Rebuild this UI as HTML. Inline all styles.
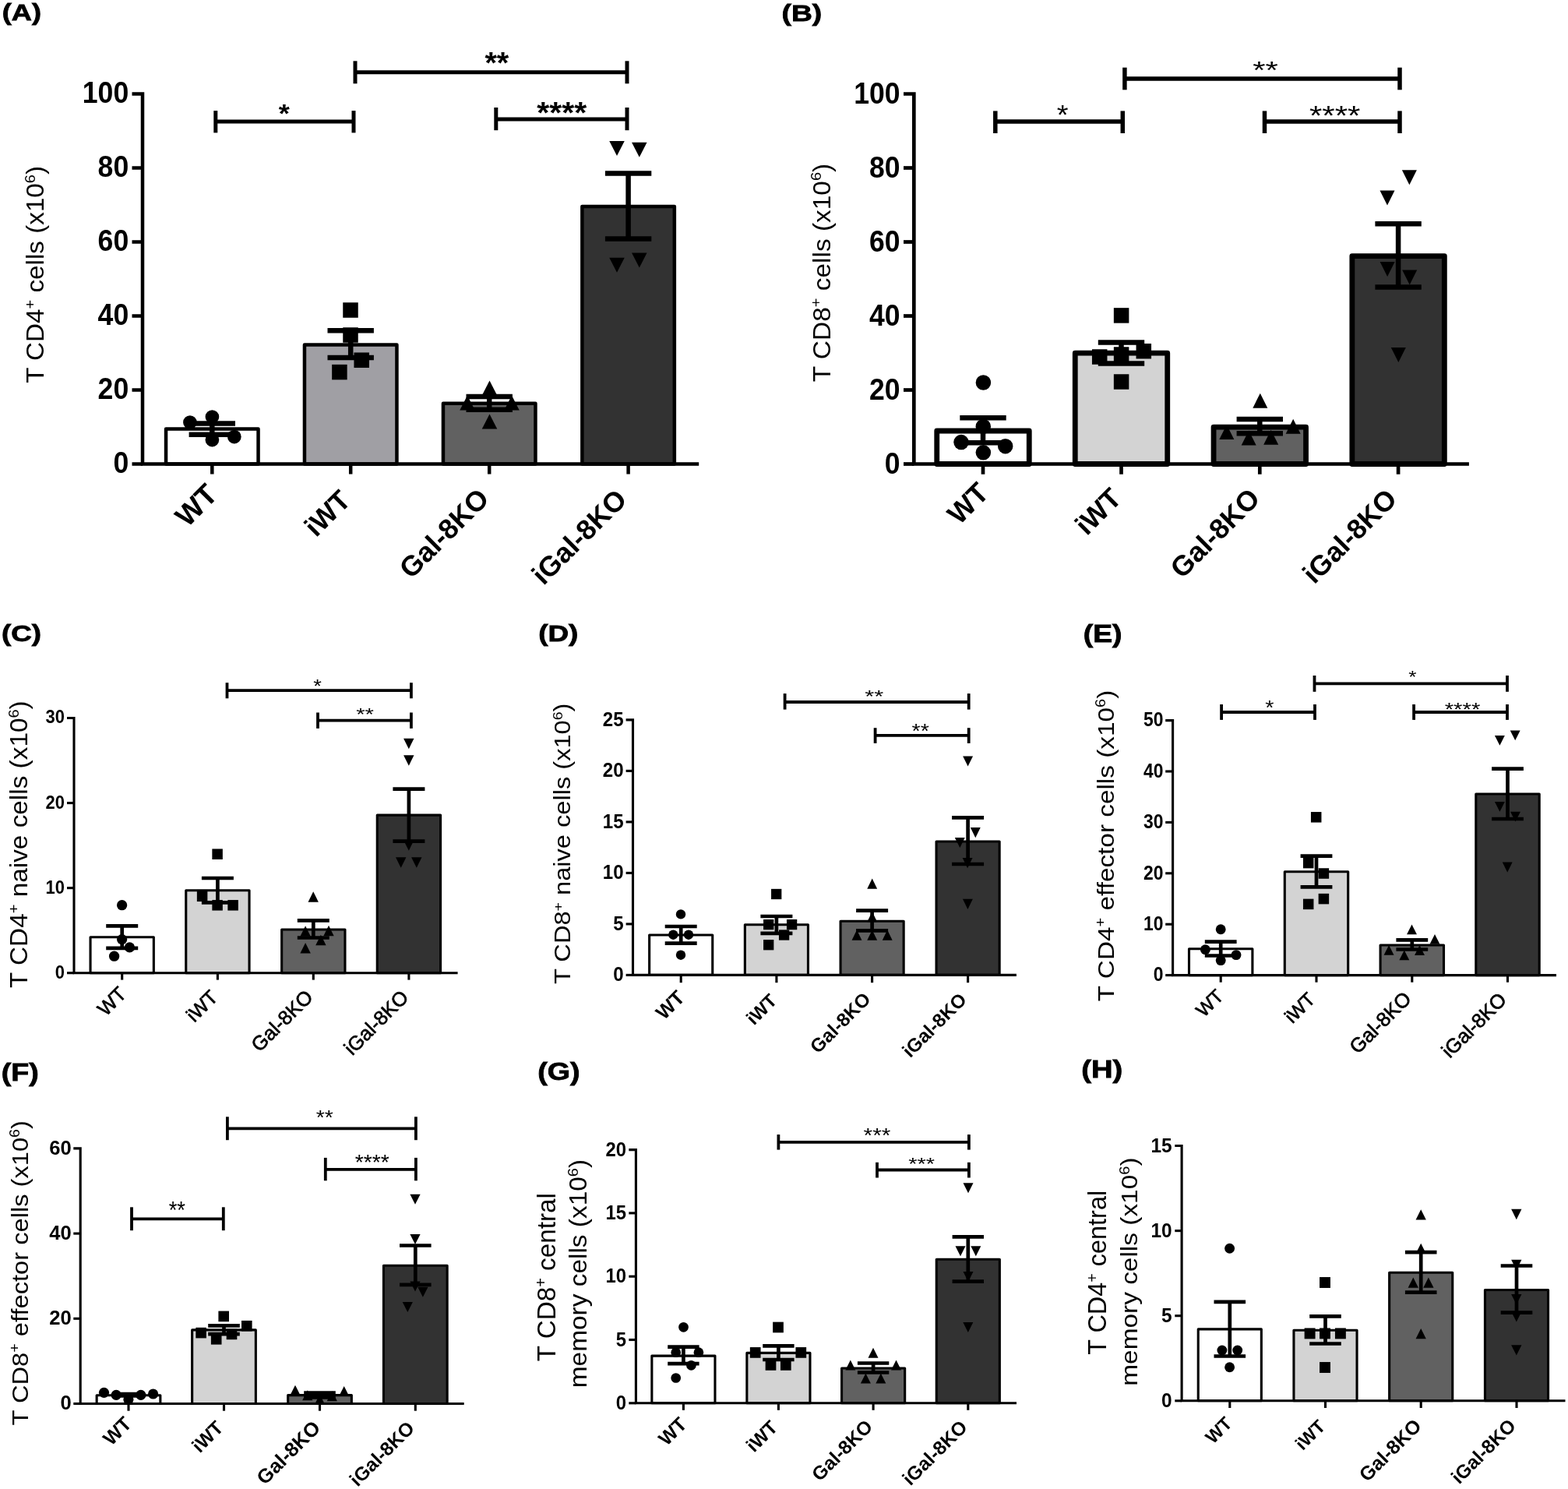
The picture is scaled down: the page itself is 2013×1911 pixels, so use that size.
<!DOCTYPE html>
<html><head><meta charset="utf-8"><title>Figure</title>
<style>html,body{margin:0;padding:0;background:#fff;}svg{display:block;}</style></head>
<body>
<svg xmlns="http://www.w3.org/2000/svg" width="2013" height="1911" viewBox="0 0 2013 1911">
<rect width="2013" height="1911" fill="#fff"/>
<g id="pA" stroke="#000" fill="#000">
<rect x="213.05" y="550.5" width="118.5" height="45" fill="#ffffff" stroke="#000" stroke-width="4.5" stroke-linejoin="round"/>
<rect x="390.95" y="442.4" width="118.5" height="153.1" fill="#a09fa4" stroke="#000" stroke-width="4.5" stroke-linejoin="round"/>
<rect x="568.95" y="517.8" width="118.5" height="77.7" fill="#616161" stroke="#000" stroke-width="4.5" stroke-linejoin="round"/>
<rect x="747.35" y="265.1" width="118.5" height="330.4" fill="#323232" stroke="#000" stroke-width="4.5" stroke-linejoin="round"/>
<line x1="272.3" y1="543.4" x2="272.3" y2="557.7" stroke-width="6.5" stroke-linecap="butt"/>
<line x1="242.6" y1="543.4" x2="302" y2="543.4" stroke-width="6.5" stroke-linecap="butt"/>
<line x1="242.6" y1="557.7" x2="302" y2="557.7" stroke-width="6.5" stroke-linecap="butt"/>
<line x1="450.2" y1="424.3" x2="450.2" y2="459" stroke-width="6.5" stroke-linecap="butt"/>
<line x1="420.5" y1="424.3" x2="479.9" y2="424.3" stroke-width="6.5" stroke-linecap="butt"/>
<line x1="420.5" y1="459" x2="479.9" y2="459" stroke-width="6.5" stroke-linecap="butt"/>
<line x1="628.2" y1="509" x2="628.2" y2="525.7" stroke-width="6.5" stroke-linecap="butt"/>
<line x1="598.5" y1="509" x2="657.9" y2="509" stroke-width="6.5" stroke-linecap="butt"/>
<line x1="598.5" y1="525.7" x2="657.9" y2="525.7" stroke-width="6.5" stroke-linecap="butt"/>
<line x1="806.6" y1="222.5" x2="806.6" y2="306.6" stroke-width="6.5" stroke-linecap="butt"/>
<line x1="776.9" y1="222.5" x2="836.3" y2="222.5" stroke-width="6.5" stroke-linecap="butt"/>
<line x1="776.9" y1="306.6" x2="836.3" y2="306.6" stroke-width="6.5" stroke-linecap="butt"/>
</g>
<g stroke="none" fill="#000">
<circle cx="243.9" cy="542" r="8.85"/>
<circle cx="272.4" cy="535" r="8.85"/>
<circle cx="272.4" cy="564.6" r="8.85"/>
<circle cx="300.8" cy="560.6" r="8.85"/>
<rect x="440.25" y="388.25" width="19.5" height="19.5"/>
<rect x="440.25" y="420.25" width="19.5" height="19.5"/>
<rect x="454.45" y="452.45" width="19.5" height="19.5"/>
<rect x="426.15" y="467.85" width="19.5" height="19.5"/>
<polygon points="628.5,488.5 618.75,507.5 638.25,507.5"/>
<polygon points="600,507.5 590.25,526.5 609.75,526.5"/>
<polygon points="657,507.5 647.25,526.5 666.75,526.5"/>
<polygon points="628.5,531.5 618.75,550.5 638.25,550.5"/>
<polygon points="782.25,181.1 801.75,181.1 792,200.1"/>
<polygon points="811.05,182.8 830.55,182.8 820.8,201.8"/>
<polygon points="782.25,330.7 801.75,330.7 792,349.7"/>
<polygon points="811.05,324.6 830.55,324.6 820.8,343.6"/>
</g>
<g stroke="#000" fill="none">
<path d="M169.5 120.5 H183 V595.5 H897.2" stroke-width="4.5" stroke-linejoin="miter"/>
<line x1="169.5" y1="595.5" x2="183" y2="595.5" stroke-width="4.5" stroke-linecap="butt"/>
<line x1="169.5" y1="500.5" x2="183" y2="500.5" stroke-width="4.5" stroke-linecap="butt"/>
<line x1="169.5" y1="405.5" x2="183" y2="405.5" stroke-width="4.5" stroke-linecap="butt"/>
<line x1="169.5" y1="310.5" x2="183" y2="310.5" stroke-width="4.5" stroke-linecap="butt"/>
<line x1="169.5" y1="215.5" x2="183" y2="215.5" stroke-width="4.5" stroke-linecap="butt"/>
<line x1="272.3" y1="595.5" x2="272.3" y2="608.5" stroke-width="4.5" stroke-linecap="butt"/>
<line x1="450.2" y1="595.5" x2="450.2" y2="608.5" stroke-width="4.5" stroke-linecap="butt"/>
<line x1="628.2" y1="595.5" x2="628.2" y2="608.5" stroke-width="4.5" stroke-linecap="butt"/>
<line x1="806.6" y1="595.5" x2="806.6" y2="608.5" stroke-width="4.5" stroke-linecap="butt"/>
<line x1="276.8" y1="156" x2="454" y2="156" stroke-width="5" stroke-linecap="butt"/>
<line x1="276.8" y1="142.1" x2="276.8" y2="170.4" stroke-width="5" stroke-linecap="butt"/>
<line x1="454" y1="142.1" x2="454" y2="170.4" stroke-width="5" stroke-linecap="butt"/>
<line x1="456" y1="92.7" x2="805" y2="92.7" stroke-width="5" stroke-linecap="butt"/>
<line x1="456" y1="78.3" x2="456" y2="107.3" stroke-width="5" stroke-linecap="butt"/>
<line x1="805" y1="78.3" x2="805" y2="107.3" stroke-width="5" stroke-linecap="butt"/>
<line x1="636.8" y1="152.9" x2="805" y2="152.9" stroke-width="5" stroke-linecap="butt"/>
<line x1="636.8" y1="138" x2="636.8" y2="167.2" stroke-width="5" stroke-linecap="butt"/>
<line x1="805" y1="138" x2="805" y2="167.2" stroke-width="5" stroke-linecap="butt"/>
</g>
<g fill="#000" font-family='"Liberation Sans", Arial, Helvetica, sans-serif'>
<text id="A_br0" transform="translate(364.81 156.58) scale(1.1102 1)" font-size="32.56" font-weight="bold" text-anchor="middle">*</text>
<text id="A_br1" transform="translate(637.86 93.71) scale(1.0436 1)" font-size="38.08" font-weight="bold" text-anchor="middle">**</text>
<text id="A_br2" transform="translate(721.27 158.41) scale(1.0347 1)" font-size="39.66" font-weight="bold" text-anchor="middle">****</text>
<text id="A_t0" transform="translate(165.27 607.12) scale(0.9336 1)" font-size="38.19" font-weight="bold" text-anchor="end">0</text>
<text id="A_t20" transform="translate(165.27 512.12) scale(0.9336 1)" font-size="38.19" font-weight="bold" text-anchor="end">20</text>
<text id="A_t40" transform="translate(165.27 417.12) scale(0.9336 1)" font-size="38.19" font-weight="bold" text-anchor="end">40</text>
<text id="A_t60" transform="translate(165.27 322.12) scale(0.9336 1)" font-size="38.19" font-weight="bold" text-anchor="end">60</text>
<text id="A_t80" transform="translate(165.27 227.12) scale(0.9336 1)" font-size="38.19" font-weight="bold" text-anchor="end">80</text>
<text id="A_t100" transform="translate(165.27 132.12) scale(0.9336 1)" font-size="38.19" font-weight="bold" text-anchor="end">100</text>
<text id="A_x0" transform="translate(281.44 636.92) rotate(-45)" font-size="37.29" font-weight="bold" text-anchor="end">WT</text>
<text id="A_x1" transform="translate(452.1 644.29) rotate(-45)" font-size="35.75" font-weight="bold" text-anchor="end">iWT</text>
<text id="A_x2" transform="translate(629.74 642.07) rotate(-45)" font-size="36.09" font-weight="bold" text-anchor="end">Gal-8KO</text>
<text id="A_x3" transform="translate(806.78 643.09) rotate(-45)" font-size="36.06" font-weight="bold" text-anchor="end">iGal-8KO</text>
<text id="A_y0" transform="translate(56.4 352.41) rotate(-90) scale(1.0653 1)" font-size="31.21" font-weight="normal" text-anchor="middle"><tspan>T CD4</tspan><tspan font-size="18.73" dy="-11.24">+</tspan><tspan dy="11.24"> cells (x10</tspan><tspan font-size="18.73" dy="-11.24">6</tspan><tspan dy="11.24">)</tspan></text>
<text id="A_lab" transform="translate(2.75 26.06) scale(1.2174 1)" font-size="29.71" font-weight="bold" text-anchor="start" stroke="#000" stroke-width="0.8">(A)</text>
</g>
<g id="pB" stroke="#000" fill="#000">
<rect x="1202.75" y="553" width="118.5" height="42.5" fill="#ffffff" stroke="#000" stroke-width="6.8" stroke-linejoin="round"/>
<rect x="1380.25" y="453.2" width="118.5" height="142.3" fill="#d3d3d3" stroke="#000" stroke-width="6.8" stroke-linejoin="round"/>
<rect x="1558.05" y="548.2" width="118.5" height="47.3" fill="#616161" stroke="#000" stroke-width="6.8" stroke-linejoin="round"/>
<rect x="1735.85" y="328.6" width="118.5" height="266.9" fill="#323232" stroke="#000" stroke-width="6.8" stroke-linejoin="round"/>
<line x1="1262" y1="536.2" x2="1262" y2="568.2" stroke-width="6.5" stroke-linecap="butt"/>
<line x1="1232.3" y1="536.2" x2="1291.7" y2="536.2" stroke-width="6.5" stroke-linecap="butt"/>
<line x1="1232.3" y1="568.2" x2="1291.7" y2="568.2" stroke-width="6.5" stroke-linecap="butt"/>
<line x1="1439.5" y1="439.4" x2="1439.5" y2="466.4" stroke-width="6.5" stroke-linecap="butt"/>
<line x1="1409.8" y1="439.4" x2="1469.2" y2="439.4" stroke-width="6.5" stroke-linecap="butt"/>
<line x1="1409.8" y1="466.4" x2="1469.2" y2="466.4" stroke-width="6.5" stroke-linecap="butt"/>
<line x1="1617.3" y1="538" x2="1617.3" y2="556.2" stroke-width="6.5" stroke-linecap="butt"/>
<line x1="1587.6" y1="538" x2="1647" y2="538" stroke-width="6.5" stroke-linecap="butt"/>
<line x1="1587.6" y1="556.2" x2="1647" y2="556.2" stroke-width="6.5" stroke-linecap="butt"/>
<line x1="1795.1" y1="287.3" x2="1795.1" y2="368.5" stroke-width="6.5" stroke-linecap="butt"/>
<line x1="1765.4" y1="287.3" x2="1824.8" y2="287.3" stroke-width="6.5" stroke-linecap="butt"/>
<line x1="1765.4" y1="368.5" x2="1824.8" y2="368.5" stroke-width="6.5" stroke-linecap="butt"/>
</g>
<g stroke="none" fill="#000">
<circle cx="1262.4" cy="491" r="9.75"/>
<circle cx="1262.3" cy="547.4" r="9.75"/>
<circle cx="1234" cy="567.6" r="9.75"/>
<circle cx="1290.7" cy="572.7" r="9.75"/>
<circle cx="1262.3" cy="580.8" r="9.75"/>
<rect x="1429.85" y="395.15" width="19.5" height="19.5"/>
<rect x="1401.95" y="448.25" width="19.5" height="19.5"/>
<rect x="1458.55" y="440.95" width="19.5" height="19.5"/>
<rect x="1429.85" y="480.25" width="19.5" height="19.5"/>
<rect x="1429.85" y="445.25" width="19.5" height="19.5"/>
<polygon points="1617.8,504.7 1608.3,523.7 1627.3,523.7"/>
<polygon points="1660.2,537.7 1650.7,556.7 1669.7,556.7"/>
<polygon points="1574.8,545.1 1565.3,564.1 1584.3,564.1"/>
<polygon points="1603.2,552.6 1593.7,571.6 1612.7,571.6"/>
<polygon points="1631.7,551.8 1622.2,570.8 1641.2,570.8"/>
<polygon points="1771.5,244.5 1790.5,244.5 1781,263.5"/>
<polygon points="1799.9,218.2 1818.9,218.2 1809.4,237.2"/>
<polygon points="1771.6,336 1790.6,336 1781.1,355"/>
<polygon points="1800.2,346.5 1819.2,346.5 1809.7,365.5"/>
<polygon points="1785.8,445.9 1804.8,445.9 1795.3,464.9"/>
</g>
<g stroke="#000" fill="none">
<path d="M1160 120.5 H1173.3 V595.5 H1885.9" stroke-width="4.7" stroke-linejoin="miter"/>
<line x1="1160" y1="595.5" x2="1173.3" y2="595.5" stroke-width="4.7" stroke-linecap="butt"/>
<line x1="1160" y1="500.5" x2="1173.3" y2="500.5" stroke-width="4.7" stroke-linecap="butt"/>
<line x1="1160" y1="405.5" x2="1173.3" y2="405.5" stroke-width="4.7" stroke-linecap="butt"/>
<line x1="1160" y1="310.5" x2="1173.3" y2="310.5" stroke-width="4.7" stroke-linecap="butt"/>
<line x1="1160" y1="215.5" x2="1173.3" y2="215.5" stroke-width="4.7" stroke-linecap="butt"/>
<line x1="1262" y1="595.5" x2="1262" y2="608.7" stroke-width="4.7" stroke-linecap="butt"/>
<line x1="1439.5" y1="595.5" x2="1439.5" y2="608.7" stroke-width="4.7" stroke-linecap="butt"/>
<line x1="1617.3" y1="595.5" x2="1617.3" y2="608.7" stroke-width="4.7" stroke-linecap="butt"/>
<line x1="1795.1" y1="595.5" x2="1795.1" y2="608.7" stroke-width="4.7" stroke-linecap="butt"/>
<line x1="1277.8" y1="155.9" x2="1441.3" y2="155.9" stroke-width="5.5" stroke-linecap="butt"/>
<line x1="1277.8" y1="142.4" x2="1277.8" y2="171" stroke-width="5.5" stroke-linecap="butt"/>
<line x1="1441.3" y1="142.4" x2="1441.3" y2="171" stroke-width="5.5" stroke-linecap="butt"/>
<line x1="1443.9" y1="100.9" x2="1797" y2="100.9" stroke-width="5.5" stroke-linecap="butt"/>
<line x1="1443.9" y1="86.7" x2="1443.9" y2="115.3" stroke-width="5.5" stroke-linecap="butt"/>
<line x1="1797" y1="86.7" x2="1797" y2="115.3" stroke-width="5.5" stroke-linecap="butt"/>
<line x1="1623.5" y1="155.9" x2="1797" y2="155.9" stroke-width="5.5" stroke-linecap="butt"/>
<line x1="1623.5" y1="142.4" x2="1623.5" y2="171" stroke-width="5.5" stroke-linecap="butt"/>
<line x1="1797" y1="142.4" x2="1797" y2="171" stroke-width="5.5" stroke-linecap="butt"/>
</g>
<g fill="#000" font-family='"Liberation Sans", Arial, Helvetica, sans-serif'>
<text id="B_br0" transform="translate(1364.19 158.95) scale(1.0913 1)" font-size="34.84" font-weight="normal" text-anchor="middle">*</text>
<text id="B_br1" transform="translate(1624.5 100.98) scale(1.3500 1)" font-size="31.05" font-weight="normal" text-anchor="middle">**</text>
<text id="B_br2" transform="translate(1713.74 160.35) scale(1.1928 1)" font-size="35.31" font-weight="normal" text-anchor="middle">****</text>
<text id="B_t0" transform="translate(1155.59 607.97) scale(0.9347 1)" font-size="38.01" font-weight="bold" text-anchor="end">0</text>
<text id="B_t20" transform="translate(1155.59 512.97) scale(0.9347 1)" font-size="38.01" font-weight="bold" text-anchor="end">20</text>
<text id="B_t40" transform="translate(1155.59 417.97) scale(0.9347 1)" font-size="38.01" font-weight="bold" text-anchor="end">40</text>
<text id="B_t60" transform="translate(1155.59 322.97) scale(0.9347 1)" font-size="38.01" font-weight="bold" text-anchor="end">60</text>
<text id="B_t80" transform="translate(1155.59 227.97) scale(0.9347 1)" font-size="38.01" font-weight="bold" text-anchor="end">80</text>
<text id="B_t100" transform="translate(1155.59 132.97) scale(0.9347 1)" font-size="38.01" font-weight="bold" text-anchor="end">100</text>
<text id="B_x0" transform="translate(1271.44 634.84) rotate(-45)" font-size="36.42" font-weight="bold" text-anchor="end">WT</text>
<text id="B_x1" transform="translate(1441.86 641.79) rotate(-45)" font-size="36.02" font-weight="bold" text-anchor="end">iWT</text>
<text id="B_x2" transform="translate(1619.5 641.98) rotate(-45)" font-size="36.04" font-weight="bold" text-anchor="end">Gal-8KO</text>
<text id="B_x3" transform="translate(1795.49 642.52) rotate(-45)" font-size="35.75" font-weight="bold" text-anchor="end">iGal-8KO</text>
<text id="B_y0" transform="translate(1065.74 350.01) rotate(-90) scale(1.0567 1)" font-size="31.65" font-weight="normal" text-anchor="middle"><tspan>T CD8</tspan><tspan font-size="18.99" dy="-11.39">+</tspan><tspan dy="11.39"> cells (x10</tspan><tspan font-size="18.99" dy="-11.39">6</tspan><tspan dy="11.39">)</tspan></text>
<text id="B_lab" transform="translate(1003.46 26.96) scale(1.2312 1)" font-size="30.3" font-weight="bold" text-anchor="start" stroke="#000" stroke-width="0.8">(B)</text>
</g>
<g id="pC" stroke="#000" fill="#000">
<rect x="116.05" y="1202.7" width="81.3" height="46" fill="#ffffff" stroke="#000" stroke-width="3.1" stroke-linejoin="round"/>
<rect x="238.75" y="1142.8" width="81.3" height="105.9" fill="#d3d3d3" stroke="#000" stroke-width="3.1" stroke-linejoin="round"/>
<rect x="361.65" y="1193" width="81.3" height="55.7" fill="#616161" stroke="#000" stroke-width="3.1" stroke-linejoin="round"/>
<rect x="484.25" y="1046.1" width="81.3" height="202.6" fill="#323232" stroke="#000" stroke-width="3.1" stroke-linejoin="round"/>
<line x1="156.7" y1="1188.4" x2="156.7" y2="1216.9" stroke-width="4.7" stroke-linecap="butt"/>
<line x1="136.2" y1="1188.4" x2="177.2" y2="1188.4" stroke-width="4.7" stroke-linecap="butt"/>
<line x1="136.2" y1="1216.9" x2="177.2" y2="1216.9" stroke-width="4.7" stroke-linecap="butt"/>
<line x1="279.4" y1="1127" x2="279.4" y2="1158.3" stroke-width="4.7" stroke-linecap="butt"/>
<line x1="258.9" y1="1127" x2="299.9" y2="1127" stroke-width="4.7" stroke-linecap="butt"/>
<line x1="258.9" y1="1158.3" x2="299.9" y2="1158.3" stroke-width="4.7" stroke-linecap="butt"/>
<line x1="402.3" y1="1181.4" x2="402.3" y2="1203.5" stroke-width="4.7" stroke-linecap="butt"/>
<line x1="381.8" y1="1181.4" x2="422.8" y2="1181.4" stroke-width="4.7" stroke-linecap="butt"/>
<line x1="381.8" y1="1203.5" x2="422.8" y2="1203.5" stroke-width="4.7" stroke-linecap="butt"/>
<line x1="524.9" y1="1012.7" x2="524.9" y2="1079.6" stroke-width="4.7" stroke-linecap="butt"/>
<line x1="504.4" y1="1012.7" x2="545.4" y2="1012.7" stroke-width="4.7" stroke-linecap="butt"/>
<line x1="504.4" y1="1079.6" x2="545.4" y2="1079.6" stroke-width="4.7" stroke-linecap="butt"/>
</g>
<g stroke="none" fill="#000">
<circle cx="156.6" cy="1161.7" r="6.65"/>
<circle cx="156.6" cy="1205.6" r="6.65"/>
<circle cx="166.4" cy="1215.9" r="6.65"/>
<circle cx="146.6" cy="1227.2" r="6.65"/>
<rect x="272.35" y="1089.45" width="13.5" height="13.5"/>
<rect x="252.85" y="1143.55" width="13.5" height="13.5"/>
<rect x="272.35" y="1155.05" width="13.5" height="13.5"/>
<rect x="292.35" y="1155.05" width="13.5" height="13.5"/>
<polygon points="402.2,1144.25 395.5,1157.75 408.9,1157.75"/>
<polygon points="392.1,1188.15 385.4,1201.65 398.8,1201.65"/>
<polygon points="422,1187.85 415.3,1201.35 428.7,1201.35"/>
<polygon points="411.9,1199.65 405.2,1213.15 418.6,1213.15"/>
<polygon points="392.1,1209.95 385.4,1223.45 398.8,1223.45"/>
<polygon points="518.1,947.65 531.5,947.65 524.8,961.15"/>
<polygon points="518.1,969.25 531.5,969.25 524.8,982.75"/>
<polygon points="518.1,1078.25 531.5,1078.25 524.8,1091.75"/>
<polygon points="508,1100.15 521.4,1100.15 514.7,1113.65"/>
<polygon points="528.1,1100.15 541.5,1100.15 534.8,1113.65"/>
</g>
<g stroke="#000" fill="none">
<path d="M86 921.49 H95 V1248.7 H587.6" stroke-width="3.1" stroke-linejoin="miter"/>
<line x1="86" y1="1248.7" x2="95" y2="1248.7" stroke-width="3.1" stroke-linecap="butt"/>
<line x1="86" y1="1139.63" x2="95" y2="1139.63" stroke-width="3.1" stroke-linecap="butt"/>
<line x1="86" y1="1030.56" x2="95" y2="1030.56" stroke-width="3.1" stroke-linecap="butt"/>
<line x1="156.7" y1="1248.7" x2="156.7" y2="1257.6" stroke-width="3.1" stroke-linecap="butt"/>
<line x1="279.4" y1="1248.7" x2="279.4" y2="1257.6" stroke-width="3.1" stroke-linecap="butt"/>
<line x1="402.3" y1="1248.7" x2="402.3" y2="1257.6" stroke-width="3.1" stroke-linecap="butt"/>
<line x1="524.9" y1="1248.7" x2="524.9" y2="1257.6" stroke-width="3.1" stroke-linecap="butt"/>
<line x1="291.5" y1="886.2" x2="527.9" y2="886.2" stroke-width="3.8" stroke-linecap="butt"/>
<line x1="291.5" y1="876.2" x2="291.5" y2="896.3" stroke-width="3.8" stroke-linecap="butt"/>
<line x1="527.9" y1="876.2" x2="527.9" y2="896.3" stroke-width="3.8" stroke-linecap="butt"/>
<line x1="408" y1="924.6" x2="527.9" y2="924.6" stroke-width="3.8" stroke-linecap="butt"/>
<line x1="408" y1="914.5" x2="408" y2="934.9" stroke-width="3.8" stroke-linecap="butt"/>
<line x1="527.9" y1="914.5" x2="527.9" y2="934.9" stroke-width="3.8" stroke-linecap="butt"/>
</g>
<g fill="#000" font-family='"Liberation Sans", Arial, Helvetica, sans-serif'>
<text id="C_br0" transform="translate(407.52 888.91) scale(1.1274 1)" font-size="24.24" font-weight="normal" text-anchor="middle">*</text>
<text id="C_br1" transform="translate(468.62 924.19) scale(1.3249 1)" font-size="22.13" font-weight="normal" text-anchor="middle">**</text>
<text id="C_t0" transform="translate(82.89 1255.7) scale(0.9170 1)" font-size="23.96" font-weight="bold" text-anchor="end">0</text>
<text id="C_t10" transform="translate(82.89 1146.63) scale(0.9170 1)" font-size="23.96" font-weight="bold" text-anchor="end">10</text>
<text id="C_t20" transform="translate(82.89 1037.56) scale(0.9170 1)" font-size="23.96" font-weight="bold" text-anchor="end">20</text>
<text id="C_t30" transform="translate(82.89 928.49) scale(0.9170 1)" font-size="23.96" font-weight="bold" text-anchor="end">30</text>
<text id="C_x0" transform="translate(163.59 1277.23) rotate(-45)" font-size="25.39" font-weight="normal" text-anchor="end" stroke="#000" stroke-width="0.7">WT</text>
<text id="C_x1" transform="translate(280.93 1281.49) rotate(-45)" font-size="24.99" font-weight="normal" text-anchor="end" stroke="#000" stroke-width="0.7">iWT</text>
<text id="C_x2" transform="translate(403.21 1281.11) rotate(-45)" font-size="25.51" font-weight="normal" text-anchor="end" stroke="#000" stroke-width="0.7">Gal-8KO</text>
<text id="C_x3" transform="translate(526.1 1281.55) rotate(-45)" font-size="25.44" font-weight="normal" text-anchor="end" stroke="#000" stroke-width="0.7">iGal-8KO</text>
<text id="C_y0" transform="translate(35.32 1083.68) rotate(-90) scale(1.0903 1)" font-size="30.59" font-weight="normal" text-anchor="middle"><tspan>T CD4</tspan><tspan font-size="18.35" dy="-11.01">+</tspan><tspan dy="11.01"> naive cells (x10</tspan><tspan font-size="18.35" dy="-11.01">6</tspan><tspan dy="11.01">)</tspan></text>
<text id="C_lab" transform="translate(2.04 822.97) scale(1.2459 1)" font-size="29.53" font-weight="bold" text-anchor="start" stroke="#000" stroke-width="0.8">(C)</text>
</g>
<g id="pD" stroke="#000" fill="#000">
<rect x="833.65" y="1200" width="81.1" height="51.4" fill="#ffffff" stroke="#000" stroke-width="3.1" stroke-linejoin="round"/>
<rect x="956.35" y="1186.7" width="81.1" height="64.7" fill="#d3d3d3" stroke="#000" stroke-width="3.1" stroke-linejoin="round"/>
<rect x="1079.05" y="1182.3" width="81.1" height="69.1" fill="#616161" stroke="#000" stroke-width="3.1" stroke-linejoin="round"/>
<rect x="1202.05" y="1080" width="81.1" height="171.4" fill="#323232" stroke="#000" stroke-width="3.1" stroke-linejoin="round"/>
<line x1="874.2" y1="1189" x2="874.2" y2="1210.7" stroke-width="4.7" stroke-linecap="butt"/>
<line x1="853.7" y1="1189" x2="894.7" y2="1189" stroke-width="4.7" stroke-linecap="butt"/>
<line x1="853.7" y1="1210.7" x2="894.7" y2="1210.7" stroke-width="4.7" stroke-linecap="butt"/>
<line x1="996.9" y1="1176" x2="996.9" y2="1197.8" stroke-width="4.7" stroke-linecap="butt"/>
<line x1="976.4" y1="1176" x2="1017.4" y2="1176" stroke-width="4.7" stroke-linecap="butt"/>
<line x1="976.4" y1="1197.8" x2="1017.4" y2="1197.8" stroke-width="4.7" stroke-linecap="butt"/>
<line x1="1119.6" y1="1168.7" x2="1119.6" y2="1194.4" stroke-width="4.7" stroke-linecap="butt"/>
<line x1="1099.1" y1="1168.7" x2="1140.1" y2="1168.7" stroke-width="4.7" stroke-linecap="butt"/>
<line x1="1099.1" y1="1194.4" x2="1140.1" y2="1194.4" stroke-width="4.7" stroke-linecap="butt"/>
<line x1="1242.6" y1="1049.3" x2="1242.6" y2="1109" stroke-width="4.7" stroke-linecap="butt"/>
<line x1="1222.1" y1="1049.3" x2="1263.1" y2="1049.3" stroke-width="4.7" stroke-linecap="butt"/>
<line x1="1222.1" y1="1109" x2="1263.1" y2="1109" stroke-width="4.7" stroke-linecap="butt"/>
</g>
<g stroke="none" fill="#000">
<circle cx="874" cy="1173.4" r="6.2"/>
<circle cx="864.3" cy="1199.7" r="6.2"/>
<circle cx="884" cy="1199.7" r="6.2"/>
<circle cx="874" cy="1225.7" r="6.2"/>
<rect x="990.05" y="1140.85" width="13.3" height="13.3"/>
<rect x="980.05" y="1179.95" width="13.3" height="13.3"/>
<rect x="1009.95" y="1179.95" width="13.3" height="13.3"/>
<rect x="999.95" y="1193.35" width="13.3" height="13.3"/>
<rect x="980.05" y="1206.05" width="13.3" height="13.3"/>
<polygon points="1119.7,1127.6 1113.25,1140.8 1126.15,1140.8"/>
<polygon points="1119.7,1170.1 1113.25,1183.3 1126.15,1183.3"/>
<polygon points="1100,1193.6 1093.55,1206.8 1106.45,1206.8"/>
<polygon points="1119.7,1193.6 1113.25,1206.8 1126.15,1206.8"/>
<polygon points="1139.2,1193.6 1132.75,1206.8 1145.65,1206.8"/>
<polygon points="1236.15,970.4 1249.05,970.4 1242.6,983.6"/>
<polygon points="1245.85,1062.1 1258.75,1062.1 1252.3,1075.3"/>
<polygon points="1225.85,1074.9 1238.75,1074.9 1232.3,1088.1"/>
<polygon points="1235.65,1101 1248.55,1101 1242.1,1114.2"/>
<polygon points="1235.95,1153.7 1248.85,1153.7 1242.4,1166.9"/>
</g>
<g stroke="#000" fill="none">
<path d="M803.6 923.9 H812.5 V1251.4 H1304.9" stroke-width="3.1" stroke-linejoin="miter"/>
<line x1="803.6" y1="1251.4" x2="812.5" y2="1251.4" stroke-width="3.1" stroke-linecap="butt"/>
<line x1="803.6" y1="1185.9" x2="812.5" y2="1185.9" stroke-width="3.1" stroke-linecap="butt"/>
<line x1="803.6" y1="1120.4" x2="812.5" y2="1120.4" stroke-width="3.1" stroke-linecap="butt"/>
<line x1="803.6" y1="1054.9" x2="812.5" y2="1054.9" stroke-width="3.1" stroke-linecap="butt"/>
<line x1="803.6" y1="989.4" x2="812.5" y2="989.4" stroke-width="3.1" stroke-linecap="butt"/>
<line x1="874.2" y1="1251.4" x2="874.2" y2="1261.2" stroke-width="3.1" stroke-linecap="butt"/>
<line x1="996.9" y1="1251.4" x2="996.9" y2="1261.2" stroke-width="3.1" stroke-linecap="butt"/>
<line x1="1119.6" y1="1251.4" x2="1119.6" y2="1261.2" stroke-width="3.1" stroke-linecap="butt"/>
<line x1="1242.6" y1="1251.4" x2="1242.6" y2="1261.2" stroke-width="3.1" stroke-linecap="butt"/>
<line x1="1007.6" y1="901" x2="1243.7" y2="901" stroke-width="3.8" stroke-linecap="butt"/>
<line x1="1007.6" y1="890.1" x2="1007.6" y2="910.6" stroke-width="3.8" stroke-linecap="butt"/>
<line x1="1243.7" y1="890.1" x2="1243.7" y2="910.6" stroke-width="3.8" stroke-linecap="butt"/>
<line x1="1123.6" y1="943.9" x2="1243.7" y2="943.9" stroke-width="3.8" stroke-linecap="butt"/>
<line x1="1123.6" y1="934.2" x2="1123.6" y2="953.9" stroke-width="3.8" stroke-linecap="butt"/>
<line x1="1243.7" y1="934.2" x2="1243.7" y2="953.9" stroke-width="3.8" stroke-linecap="butt"/>
</g>
<g fill="#000" font-family='"Liberation Sans", Arial, Helvetica, sans-serif'>
<text id="D_br0" transform="translate(1122.24 900.72) scale(1.3500 1)" font-size="22.83" font-weight="normal" text-anchor="middle">**</text>
<text id="D_br1" transform="translate(1181.68 947.37) scale(1.1252 1)" font-size="25.4" font-weight="normal" text-anchor="middle">**</text>
<text id="D_t0" transform="translate(800.58 1259.12) scale(0.9472 1)" font-size="25.41" font-weight="bold" text-anchor="end">0</text>
<text id="D_t5" transform="translate(800.58 1193.62) scale(0.9472 1)" font-size="25.41" font-weight="bold" text-anchor="end">5</text>
<text id="D_t10" transform="translate(800.58 1128.12) scale(0.9472 1)" font-size="25.41" font-weight="bold" text-anchor="end">10</text>
<text id="D_t15" transform="translate(800.58 1062.62) scale(0.9472 1)" font-size="25.41" font-weight="bold" text-anchor="end">15</text>
<text id="D_t20" transform="translate(800.58 997.12) scale(0.9472 1)" font-size="25.41" font-weight="bold" text-anchor="end">20</text>
<text id="D_t25" transform="translate(800.58 931.62) scale(0.9472 1)" font-size="25.41" font-weight="bold" text-anchor="end">25</text>
<text id="D_x0" transform="translate(880.57 1281.92) rotate(-45)" font-size="25.47" font-weight="bold" text-anchor="end">WT</text>
<text id="D_x1" transform="translate(998.9 1285.71) rotate(-45)" font-size="23.88" font-weight="bold" text-anchor="end">iWT</text>
<text id="D_x2" transform="translate(1119.24 1283.9) rotate(-45)" font-size="24.48" font-weight="bold" text-anchor="end">Gal-8KO</text>
<text id="D_x3" transform="translate(1242.34 1284.63) rotate(-45)" font-size="24.44" font-weight="bold" text-anchor="end">iGal-8KO</text>
<text id="D_y0" transform="translate(731.98 1082.78) rotate(-90) scale(1.1404 1)" font-size="28.59" font-weight="normal" text-anchor="middle"><tspan>T CD8</tspan><tspan font-size="17.15" dy="-10.29">+</tspan><tspan dy="10.29"> naive cells (x10</tspan><tspan font-size="17.15" dy="-10.29">6</tspan><tspan dy="10.29">)</tspan></text>
<text id="D_lab" transform="translate(691.2 823.3) scale(1.2174 1)" font-size="30.3" font-weight="bold" text-anchor="start" stroke="#000" stroke-width="0.8">(D)</text>
</g>
<g id="pE" stroke="#000" fill="#000">
<rect x="1526.5" y="1217.7" width="81.4" height="33.9" fill="#ffffff" stroke="#000" stroke-width="3.1" stroke-linejoin="round"/>
<rect x="1649.3" y="1118.8" width="81.4" height="132.8" fill="#d3d3d3" stroke="#000" stroke-width="3.1" stroke-linejoin="round"/>
<rect x="1772.1" y="1213" width="81.4" height="38.6" fill="#616161" stroke="#000" stroke-width="3.1" stroke-linejoin="round"/>
<rect x="1894.8" y="1019" width="81.4" height="232.6" fill="#323232" stroke="#000" stroke-width="3.1" stroke-linejoin="round"/>
<line x1="1567.2" y1="1208.7" x2="1567.2" y2="1226.5" stroke-width="4.7" stroke-linecap="butt"/>
<line x1="1546.8" y1="1208.7" x2="1587.6" y2="1208.7" stroke-width="4.7" stroke-linecap="butt"/>
<line x1="1546.8" y1="1226.5" x2="1587.6" y2="1226.5" stroke-width="4.7" stroke-linecap="butt"/>
<line x1="1690" y1="1098.7" x2="1690" y2="1138.3" stroke-width="4.7" stroke-linecap="butt"/>
<line x1="1669.6" y1="1098.7" x2="1710.4" y2="1098.7" stroke-width="4.7" stroke-linecap="butt"/>
<line x1="1669.6" y1="1138.3" x2="1710.4" y2="1138.3" stroke-width="4.7" stroke-linecap="butt"/>
<line x1="1812.8" y1="1206.4" x2="1812.8" y2="1218.5" stroke-width="4.7" stroke-linecap="butt"/>
<line x1="1792.4" y1="1206.4" x2="1833.2" y2="1206.4" stroke-width="4.7" stroke-linecap="butt"/>
<line x1="1792.4" y1="1218.5" x2="1833.2" y2="1218.5" stroke-width="4.7" stroke-linecap="butt"/>
<line x1="1935.5" y1="986.6" x2="1935.5" y2="1051" stroke-width="4.7" stroke-linecap="butt"/>
<line x1="1915.1" y1="986.6" x2="1955.9" y2="986.6" stroke-width="4.7" stroke-linecap="butt"/>
<line x1="1915.1" y1="1051" x2="1955.9" y2="1051" stroke-width="4.7" stroke-linecap="butt"/>
</g>
<g stroke="none" fill="#000">
<circle cx="1567.2" cy="1192.8" r="6.45"/>
<circle cx="1547.4" cy="1218.7" r="6.45"/>
<circle cx="1587" cy="1225.6" r="6.45"/>
<circle cx="1567.2" cy="1232.6" r="6.45"/>
<rect x="1682.95" y="1042.05" width="13.5" height="13.5"/>
<rect x="1672.95" y="1100.85" width="13.5" height="13.5"/>
<rect x="1692.65" y="1114.25" width="13.5" height="13.5"/>
<rect x="1692.65" y="1146.85" width="13.5" height="13.5"/>
<rect x="1672.95" y="1153.65" width="13.5" height="13.5"/>
<polygon points="1812.5,1186.4 1806.05,1199.2 1818.95,1199.2"/>
<polygon points="1842,1199 1835.55,1211.8 1848.45,1211.8"/>
<polygon points="1783.1,1212.9 1776.65,1225.7 1789.55,1225.7"/>
<polygon points="1802.8,1219.5 1796.35,1232.3 1809.25,1232.3"/>
<polygon points="1822.5,1213.1 1816.05,1225.9 1828.95,1225.9"/>
<polygon points="1918.95,943.9 1931.85,943.9 1925.4,956.7"/>
<polygon points="1938.75,937.4 1951.65,937.4 1945.2,950.2"/>
<polygon points="1918.95,1029 1931.85,1029 1925.4,1041.8"/>
<polygon points="1939.05,1041.8 1951.95,1041.8 1945.5,1054.6"/>
<polygon points="1928.75,1106.6 1941.65,1106.6 1935.2,1119.4"/>
</g>
<g stroke="#000" fill="none">
<path d="M1496.2 924.6 H1505.6 V1251.6 H1998" stroke-width="3.1" stroke-linejoin="miter"/>
<line x1="1496.2" y1="1251.6" x2="1505.6" y2="1251.6" stroke-width="3.1" stroke-linecap="butt"/>
<line x1="1496.2" y1="1186.2" x2="1505.6" y2="1186.2" stroke-width="3.1" stroke-linecap="butt"/>
<line x1="1496.2" y1="1120.8" x2="1505.6" y2="1120.8" stroke-width="3.1" stroke-linecap="butt"/>
<line x1="1496.2" y1="1055.4" x2="1505.6" y2="1055.4" stroke-width="3.1" stroke-linecap="butt"/>
<line x1="1496.2" y1="990" x2="1505.6" y2="990" stroke-width="3.1" stroke-linecap="butt"/>
<line x1="1567.2" y1="1251.6" x2="1567.2" y2="1260.7" stroke-width="3.1" stroke-linecap="butt"/>
<line x1="1690" y1="1251.6" x2="1690" y2="1260.7" stroke-width="3.1" stroke-linecap="butt"/>
<line x1="1812.8" y1="1251.6" x2="1812.8" y2="1260.7" stroke-width="3.1" stroke-linecap="butt"/>
<line x1="1935.5" y1="1251.6" x2="1935.5" y2="1260.7" stroke-width="3.1" stroke-linecap="butt"/>
<line x1="1568.1" y1="914" x2="1688" y2="914" stroke-width="3.8" stroke-linecap="butt"/>
<line x1="1568.1" y1="904" x2="1568.1" y2="923.9" stroke-width="3.8" stroke-linecap="butt"/>
<line x1="1688" y1="904" x2="1688" y2="923.9" stroke-width="3.8" stroke-linecap="butt"/>
<line x1="1687.5" y1="877.4" x2="1935" y2="877.4" stroke-width="3.8" stroke-linecap="butt"/>
<line x1="1687.5" y1="867" x2="1687.5" y2="887.8" stroke-width="3.8" stroke-linecap="butt"/>
<line x1="1935" y1="867" x2="1935" y2="887.8" stroke-width="3.8" stroke-linecap="butt"/>
<line x1="1815.1" y1="914" x2="1935" y2="914" stroke-width="3.8" stroke-linecap="butt"/>
<line x1="1815.1" y1="904" x2="1815.1" y2="923.9" stroke-width="3.8" stroke-linecap="butt"/>
<line x1="1935" y1="904" x2="1935" y2="923.9" stroke-width="3.8" stroke-linecap="butt"/>
</g>
<g fill="#000" font-family='"Liberation Sans", Arial, Helvetica, sans-serif'>
<text id="E_br0" transform="translate(1629.85 916.9) scale(1.1567 1)" font-size="24.89" font-weight="normal" text-anchor="middle">*</text>
<text id="E_br1" transform="translate(1813.51 876.32) scale(1.2068 1)" font-size="21.87" font-weight="normal" text-anchor="middle">*</text>
<text id="E_br2" transform="translate(1877.51 918.74) scale(1.1834 1)" font-size="24.82" font-weight="normal" text-anchor="middle">****</text>
<text id="E_t0" transform="translate(1493.53 1259.32) scale(0.8953 1)" font-size="25.58" font-weight="bold" text-anchor="end">0</text>
<text id="E_t10" transform="translate(1493.53 1193.92) scale(0.8953 1)" font-size="25.58" font-weight="bold" text-anchor="end">10</text>
<text id="E_t20" transform="translate(1493.53 1128.52) scale(0.8953 1)" font-size="25.58" font-weight="bold" text-anchor="end">20</text>
<text id="E_t30" transform="translate(1493.53 1063.12) scale(0.8953 1)" font-size="25.58" font-weight="bold" text-anchor="end">30</text>
<text id="E_t40" transform="translate(1493.53 997.72) scale(0.8953 1)" font-size="25.58" font-weight="bold" text-anchor="end">40</text>
<text id="E_t50" transform="translate(1493.53 932.32) scale(0.8953 1)" font-size="25.58" font-weight="bold" text-anchor="end">50</text>
<text id="E_x0" transform="translate(1572.26 1279.9) rotate(-45)" font-size="24.24" font-weight="normal" text-anchor="end" stroke="#000" stroke-width="0.7">WT</text>
<text id="E_x1" transform="translate(1689.68 1284.14) rotate(-45)" font-size="24.2" font-weight="normal" text-anchor="end" stroke="#000" stroke-width="0.7">iWT</text>
<text id="E_x2" transform="translate(1813.47 1283.34) rotate(-45)" font-size="25.65" font-weight="normal" text-anchor="end" stroke="#000" stroke-width="0.7">Gal-8KO</text>
<text id="E_x3" transform="translate(1935.6 1284.8) rotate(-45)" font-size="25.54" font-weight="normal" text-anchor="end" stroke="#000" stroke-width="0.7">iGal-8KO</text>
<text id="E_y0" transform="translate(1429.67 1085.48) rotate(-90) scale(1.1175 1)" font-size="29.83" font-weight="normal" text-anchor="middle"><tspan>T CD4</tspan><tspan font-size="17.90" dy="-10.74">+</tspan><tspan dy="10.74"> effector cells (x10</tspan><tspan font-size="17.90" dy="-10.74">6</tspan><tspan dy="10.74">)</tspan></text>
<text id="E_lab" transform="translate(1390.77 824.28) scale(1.2164 1)" font-size="30.69" font-weight="bold" text-anchor="start" stroke="#000" stroke-width="0.8">(E)</text>
</g>
<g id="pF" stroke="#000" fill="#000">
<rect x="124.15" y="1790.7" width="81.7" height="10.8" fill="#ffffff" stroke="#000" stroke-width="3.1" stroke-linejoin="round"/>
<rect x="246.65" y="1706.9" width="81.7" height="94.6" fill="#d3d3d3" stroke="#000" stroke-width="3.1" stroke-linejoin="round"/>
<rect x="369.65" y="1790.6" width="81.7" height="10.9" fill="#616161" stroke="#000" stroke-width="3.1" stroke-linejoin="round"/>
<rect x="492.45" y="1624.3" width="81.7" height="177.2" fill="#323232" stroke="#000" stroke-width="3.1" stroke-linejoin="round"/>
<line x1="165" y1="1789" x2="165" y2="1791.5" stroke-width="4.7" stroke-linecap="butt"/>
<line x1="144.7" y1="1789" x2="185.3" y2="1789" stroke-width="4.7" stroke-linecap="butt"/>
<line x1="144.7" y1="1791.5" x2="185.3" y2="1791.5" stroke-width="4.7" stroke-linecap="butt"/>
<line x1="287.5" y1="1701.3" x2="287.5" y2="1712.1" stroke-width="4.7" stroke-linecap="butt"/>
<line x1="267.2" y1="1701.3" x2="307.8" y2="1701.3" stroke-width="4.7" stroke-linecap="butt"/>
<line x1="267.2" y1="1712.1" x2="307.8" y2="1712.1" stroke-width="4.7" stroke-linecap="butt"/>
<line x1="410.5" y1="1787.6" x2="410.5" y2="1793.5" stroke-width="4.7" stroke-linecap="butt"/>
<line x1="390.2" y1="1787.6" x2="430.8" y2="1787.6" stroke-width="4.7" stroke-linecap="butt"/>
<line x1="390.2" y1="1793.5" x2="430.8" y2="1793.5" stroke-width="4.7" stroke-linecap="butt"/>
<line x1="533.3" y1="1598.5" x2="533.3" y2="1648.9" stroke-width="4.7" stroke-linecap="butt"/>
<line x1="513" y1="1598.5" x2="553.6" y2="1598.5" stroke-width="4.7" stroke-linecap="butt"/>
<line x1="513" y1="1648.9" x2="553.6" y2="1648.9" stroke-width="4.7" stroke-linecap="butt"/>
</g>
<g stroke="none" fill="#000">
<circle cx="133.5" cy="1787.3" r="6.6"/>
<circle cx="149.2" cy="1790.4" r="6.6"/>
<circle cx="164.9" cy="1795.9" r="6.6"/>
<circle cx="180.8" cy="1790.4" r="6.6"/>
<circle cx="196.6" cy="1789" r="6.6"/>
<rect x="280.4" y="1682.6" width="13.6" height="13.6"/>
<rect x="310" y="1694.9" width="13.6" height="13.6"/>
<rect x="251.3" y="1703.8" width="13.6" height="13.6"/>
<rect x="270.9" y="1712" width="13.6" height="13.6"/>
<rect x="290.7" y="1705.6" width="13.6" height="13.6"/>
<polygon points="379,1777.7 372.4,1790.7 385.6,1790.7"/>
<polygon points="441.7,1778.9 435.1,1791.9 448.3,1791.9"/>
<polygon points="394.8,1784.2 388.2,1797.2 401.4,1797.2"/>
<polygon points="426.3,1785.3 419.7,1798.3 432.9,1798.3"/>
<polygon points="410.5,1789.5 403.9,1802.5 417.1,1802.5"/>
<polygon points="526.4,1532.8 539.6,1532.8 533,1545.8"/>
<polygon points="526.4,1583.9 539.6,1583.9 533,1596.9"/>
<polygon points="526.4,1644.5 539.6,1644.5 533,1657.5"/>
<polygon points="536.3,1651.7 549.5,1651.7 542.9,1664.7"/>
<polygon points="516.7,1671 529.9,1671 523.3,1684"/>
</g>
<g stroke="#000" fill="none">
<path d="M94.3 1473.9 H103.2 V1801.5 H595.7" stroke-width="3.1" stroke-linejoin="miter"/>
<line x1="94.3" y1="1801.5" x2="103.2" y2="1801.5" stroke-width="3.1" stroke-linecap="butt"/>
<line x1="94.3" y1="1692.3" x2="103.2" y2="1692.3" stroke-width="3.1" stroke-linecap="butt"/>
<line x1="94.3" y1="1583.1" x2="103.2" y2="1583.1" stroke-width="3.1" stroke-linecap="butt"/>
<line x1="165" y1="1801.5" x2="165" y2="1810.7" stroke-width="3.1" stroke-linecap="butt"/>
<line x1="287.5" y1="1801.5" x2="287.5" y2="1810.7" stroke-width="3.1" stroke-linecap="butt"/>
<line x1="410.5" y1="1801.5" x2="410.5" y2="1810.7" stroke-width="3.1" stroke-linecap="butt"/>
<line x1="533.3" y1="1801.5" x2="533.3" y2="1810.7" stroke-width="3.1" stroke-linecap="butt"/>
<line x1="169" y1="1564.3" x2="286.8" y2="1564.3" stroke-width="3.8" stroke-linecap="butt"/>
<line x1="169" y1="1549.3" x2="169" y2="1579.2" stroke-width="3.8" stroke-linecap="butt"/>
<line x1="286.8" y1="1549.3" x2="286.8" y2="1579.2" stroke-width="3.8" stroke-linecap="butt"/>
<line x1="291.9" y1="1448.3" x2="533.9" y2="1448.3" stroke-width="3.8" stroke-linecap="butt"/>
<line x1="291.9" y1="1433.3" x2="291.9" y2="1463.2" stroke-width="3.8" stroke-linecap="butt"/>
<line x1="533.9" y1="1433.3" x2="533.9" y2="1463.2" stroke-width="3.8" stroke-linecap="butt"/>
<line x1="417.8" y1="1500.8" x2="533.9" y2="1500.8" stroke-width="3.8" stroke-linecap="butt"/>
<line x1="417.8" y1="1485.9" x2="417.8" y2="1515.3" stroke-width="3.8" stroke-linecap="butt"/>
<line x1="533.9" y1="1485.9" x2="533.9" y2="1515.3" stroke-width="3.8" stroke-linecap="butt"/>
</g>
<g fill="#000" font-family='"Liberation Sans", Arial, Helvetica, sans-serif'>
<text id="F_br0" transform="translate(227.3 1564.41) scale(0.8713 1)" font-size="31.33" font-weight="normal" text-anchor="middle">**</text>
<text id="F_br1" transform="translate(416.68 1443.12) scale(1.0773 1)" font-size="26.25" font-weight="normal" text-anchor="middle">**</text>
<text id="F_br2" transform="translate(477.72 1501.4) scale(1.0493 1)" font-size="26.92" font-weight="normal" text-anchor="middle">****</text>
<text id="F_t0" transform="translate(91.67 1809.26) scale(0.9609 1)" font-size="26.68" font-weight="bold" text-anchor="end">0</text>
<text id="F_t20" transform="translate(91.67 1700.06) scale(0.9609 1)" font-size="26.68" font-weight="bold" text-anchor="end">20</text>
<text id="F_t40" transform="translate(91.67 1590.86) scale(0.9609 1)" font-size="26.68" font-weight="bold" text-anchor="end">40</text>
<text id="F_t60" transform="translate(91.67 1481.66) scale(0.9609 1)" font-size="26.68" font-weight="bold" text-anchor="end">60</text>
<text id="F_x0" transform="translate(170.36 1828.89) rotate(-45)" font-size="25.18" font-weight="bold" text-anchor="end">WT</text>
<text id="F_x1" transform="translate(288.23 1833.78) rotate(-45)" font-size="24.58" font-weight="bold" text-anchor="end">iWT</text>
<text id="F_x2" transform="translate(412.84 1834.17) rotate(-45)" font-size="25.71" font-weight="bold" text-anchor="end">Gal-8KO</text>
<text id="F_x3" transform="translate(533.65 1834.36) rotate(-45)" font-size="24.67" font-weight="bold" text-anchor="end">iGal-8KO</text>
<text id="F_y0" transform="translate(35.69 1633.79) rotate(-90) scale(1.0964 1)" font-size="29.79" font-weight="normal" text-anchor="middle"><tspan>T CD8</tspan><tspan font-size="17.87" dy="-10.72">+</tspan><tspan dy="10.72"> effector cells (x10</tspan><tspan font-size="17.87" dy="-10.72">6</tspan><tspan dy="10.72">)</tspan></text>
<text id="F_lab" transform="translate(1.83 1387.16) scale(1.2125 1)" font-size="31.04" font-weight="bold" text-anchor="start" stroke="#000" stroke-width="0.8">(F)</text>
</g>
<g id="pG" stroke="#000" fill="#000">
<rect x="836.85" y="1740.1" width="81.1" height="60.7" fill="#ffffff" stroke="#000" stroke-width="3.1" stroke-linejoin="round"/>
<rect x="958.85" y="1736.4" width="81.1" height="64.4" fill="#d3d3d3" stroke="#000" stroke-width="3.1" stroke-linejoin="round"/>
<rect x="1080.55" y="1756" width="81.1" height="44.8" fill="#616161" stroke="#000" stroke-width="3.1" stroke-linejoin="round"/>
<rect x="1202.25" y="1616.2" width="81.1" height="184.6" fill="#323232" stroke="#000" stroke-width="3.1" stroke-linejoin="round"/>
<line x1="877.4" y1="1728.7" x2="877.4" y2="1750.1" stroke-width="4.7" stroke-linecap="butt"/>
<line x1="857.2" y1="1728.7" x2="897.6" y2="1728.7" stroke-width="4.7" stroke-linecap="butt"/>
<line x1="857.2" y1="1750.1" x2="897.6" y2="1750.1" stroke-width="4.7" stroke-linecap="butt"/>
<line x1="999.4" y1="1727.4" x2="999.4" y2="1745" stroke-width="4.7" stroke-linecap="butt"/>
<line x1="979.2" y1="1727.4" x2="1019.6" y2="1727.4" stroke-width="4.7" stroke-linecap="butt"/>
<line x1="979.2" y1="1745" x2="1019.6" y2="1745" stroke-width="4.7" stroke-linecap="butt"/>
<line x1="1121.1" y1="1749.5" x2="1121.1" y2="1761.5" stroke-width="4.7" stroke-linecap="butt"/>
<line x1="1100.9" y1="1749.5" x2="1141.3" y2="1749.5" stroke-width="4.7" stroke-linecap="butt"/>
<line x1="1100.9" y1="1761.5" x2="1141.3" y2="1761.5" stroke-width="4.7" stroke-linecap="butt"/>
<line x1="1242.8" y1="1587.3" x2="1242.8" y2="1644.7" stroke-width="4.7" stroke-linecap="butt"/>
<line x1="1222.6" y1="1587.3" x2="1263" y2="1587.3" stroke-width="4.7" stroke-linecap="butt"/>
<line x1="1222.6" y1="1644.7" x2="1263" y2="1644.7" stroke-width="4.7" stroke-linecap="butt"/>
</g>
<g stroke="none" fill="#000">
<circle cx="877.5" cy="1703.3" r="6.35"/>
<circle cx="867.7" cy="1735.7" r="6.35"/>
<circle cx="896.9" cy="1735.7" r="6.35"/>
<circle cx="887.4" cy="1752.3" r="6.35"/>
<circle cx="867.7" cy="1768.5" r="6.35"/>
<rect x="992.15" y="1696.65" width="13.7" height="13.7"/>
<rect x="962.85" y="1729.05" width="13.7" height="13.7"/>
<rect x="1021.45" y="1729.05" width="13.7" height="13.7"/>
<rect x="982.65" y="1745.05" width="13.7" height="13.7"/>
<rect x="1001.95" y="1745.05" width="13.7" height="13.7"/>
<polygon points="1121,1729.7 1114.5,1742.7 1127.5,1742.7"/>
<polygon points="1091.8,1745.4 1085.3,1758.4 1098.3,1758.4"/>
<polygon points="1150.5,1745.4 1144,1758.4 1157,1758.4"/>
<polygon points="1111.4,1762.4 1104.9,1775.4 1117.9,1775.4"/>
<polygon points="1130.8,1762.4 1124.3,1775.4 1137.3,1775.4"/>
<polygon points="1236.5,1518.2 1249.5,1518.2 1243,1531.2"/>
<polygon points="1226.5,1599.3 1239.5,1599.3 1233,1612.3"/>
<polygon points="1246.3,1599.3 1259.3,1599.3 1252.8,1612.3"/>
<polygon points="1236.5,1631.9 1249.5,1631.9 1243,1644.9"/>
<polygon points="1236.3,1696.9 1249.3,1696.9 1242.8,1709.9"/>
</g>
<g stroke="#000" fill="none">
<path d="M807.3 1475.6 H816.4 V1800.8 H1305" stroke-width="3.1" stroke-linejoin="miter"/>
<line x1="807.3" y1="1800.8" x2="816.4" y2="1800.8" stroke-width="3.1" stroke-linecap="butt"/>
<line x1="807.3" y1="1719.5" x2="816.4" y2="1719.5" stroke-width="3.1" stroke-linecap="butt"/>
<line x1="807.3" y1="1638.2" x2="816.4" y2="1638.2" stroke-width="3.1" stroke-linecap="butt"/>
<line x1="807.3" y1="1556.9" x2="816.4" y2="1556.9" stroke-width="3.1" stroke-linecap="butt"/>
<line x1="877.4" y1="1800.8" x2="877.4" y2="1809.8" stroke-width="3.1" stroke-linecap="butt"/>
<line x1="999.4" y1="1800.8" x2="999.4" y2="1809.8" stroke-width="3.1" stroke-linecap="butt"/>
<line x1="1121.1" y1="1800.8" x2="1121.1" y2="1809.8" stroke-width="3.1" stroke-linecap="butt"/>
<line x1="1242.8" y1="1800.8" x2="1242.8" y2="1809.8" stroke-width="3.1" stroke-linecap="butt"/>
<line x1="999.4" y1="1465.8" x2="1243.9" y2="1465.8" stroke-width="3.8" stroke-linecap="butt"/>
<line x1="999.4" y1="1456.1" x2="999.4" y2="1475.6" stroke-width="3.8" stroke-linecap="butt"/>
<line x1="1243.9" y1="1456.1" x2="1243.9" y2="1475.6" stroke-width="3.8" stroke-linecap="butt"/>
<line x1="1126" y1="1501.5" x2="1243.9" y2="1501.5" stroke-width="3.8" stroke-linecap="butt"/>
<line x1="1126" y1="1491.8" x2="1126" y2="1511.5" stroke-width="3.8" stroke-linecap="butt"/>
<line x1="1243.9" y1="1491.8" x2="1243.9" y2="1511.5" stroke-width="3.8" stroke-linecap="butt"/>
</g>
<g fill="#000" font-family='"Liberation Sans", Arial, Helvetica, sans-serif'>
<text id="G_br0" transform="translate(1125.99 1465.81) scale(1.1957 1)" font-size="24.92" font-weight="normal" text-anchor="middle">***</text>
<text id="G_br1" transform="translate(1183.13 1501.25) scale(1.3171 1)" font-size="21.95" font-weight="normal" text-anchor="middle">***</text>
<text id="G_t0" transform="translate(803.94 1809.06) scale(0.9556 1)" font-size="24.98" font-weight="bold" text-anchor="end">0</text>
<text id="G_t5" transform="translate(803.94 1727.76) scale(0.9556 1)" font-size="24.98" font-weight="bold" text-anchor="end">5</text>
<text id="G_t10" transform="translate(803.94 1646.46) scale(0.9556 1)" font-size="24.98" font-weight="bold" text-anchor="end">10</text>
<text id="G_t15" transform="translate(803.94 1565.16) scale(0.9556 1)" font-size="24.98" font-weight="bold" text-anchor="end">15</text>
<text id="G_t20" transform="translate(803.94 1483.86) scale(0.9556 1)" font-size="24.98" font-weight="bold" text-anchor="end">20</text>
<text id="G_x0" transform="translate(883.32 1829.37) rotate(-45)" font-size="25.01" font-weight="bold" text-anchor="end">WT</text>
<text id="G_x1" transform="translate(999.66 1833.37) rotate(-45)" font-size="24.36" font-weight="bold" text-anchor="end">iWT</text>
<text id="G_x2" transform="translate(1121.82 1832.46) rotate(-45)" font-size="24.63" font-weight="bold" text-anchor="end">Gal-8KO</text>
<text id="G_x3" transform="translate(1243.36 1833.11) rotate(-45)" font-size="24.68" font-weight="bold" text-anchor="end">iGal-8KO</text>
<text id="G_y0" transform="translate(712.64 1639.22) rotate(-90) scale(1.0270 1)" font-size="32.38" font-weight="normal" text-anchor="middle"><tspan>T CD8</tspan><tspan font-size="19.43" dy="-11.66">+</tspan><tspan dy="11.66"> central</tspan></text>
<text id="G_y1" transform="translate(752.99 1634.56) rotate(-90) scale(1.0830 1)" font-size="30.87" font-weight="normal" text-anchor="middle"><tspan>memory cells (x10</tspan><tspan font-size="18.52" dy="-11.11">6</tspan><tspan dy="11.11">)</tspan></text>
<text id="G_lab" transform="translate(690.29 1386.19) scale(1.2250 1)" font-size="30.72" font-weight="bold" text-anchor="start" stroke="#000" stroke-width="0.8">(G)</text>
</g>
<g id="pH" stroke="#000" fill="#000">
<rect x="1538.25" y="1705.9" width="81.1" height="91.9" fill="#ffffff" stroke="#000" stroke-width="3.1" stroke-linejoin="round"/>
<rect x="1660.95" y="1707.3" width="81.1" height="90.5" fill="#d3d3d3" stroke="#000" stroke-width="3.1" stroke-linejoin="round"/>
<rect x="1783.65" y="1633.3" width="81.1" height="164.5" fill="#616161" stroke="#000" stroke-width="3.1" stroke-linejoin="round"/>
<rect x="1906.45" y="1655.5" width="81.1" height="142.3" fill="#323232" stroke="#000" stroke-width="3.1" stroke-linejoin="round"/>
<line x1="1578.8" y1="1670.9" x2="1578.8" y2="1740.5" stroke-width="4.7" stroke-linecap="butt"/>
<line x1="1558.5" y1="1670.9" x2="1599.1" y2="1670.9" stroke-width="4.7" stroke-linecap="butt"/>
<line x1="1558.5" y1="1740.5" x2="1599.1" y2="1740.5" stroke-width="4.7" stroke-linecap="butt"/>
<line x1="1701.5" y1="1689.4" x2="1701.5" y2="1724.5" stroke-width="4.7" stroke-linecap="butt"/>
<line x1="1681.2" y1="1689.4" x2="1721.8" y2="1689.4" stroke-width="4.7" stroke-linecap="butt"/>
<line x1="1681.2" y1="1724.5" x2="1721.8" y2="1724.5" stroke-width="4.7" stroke-linecap="butt"/>
<line x1="1824.2" y1="1607.1" x2="1824.2" y2="1658.6" stroke-width="4.7" stroke-linecap="butt"/>
<line x1="1803.9" y1="1607.1" x2="1844.5" y2="1607.1" stroke-width="4.7" stroke-linecap="butt"/>
<line x1="1803.9" y1="1658.6" x2="1844.5" y2="1658.6" stroke-width="4.7" stroke-linecap="butt"/>
<line x1="1947" y1="1624.5" x2="1947" y2="1684.6" stroke-width="4.7" stroke-linecap="butt"/>
<line x1="1926.7" y1="1624.5" x2="1967.3" y2="1624.5" stroke-width="4.7" stroke-linecap="butt"/>
<line x1="1926.7" y1="1684.6" x2="1967.3" y2="1684.6" stroke-width="4.7" stroke-linecap="butt"/>
</g>
<g stroke="none" fill="#000">
<circle cx="1578.6" cy="1602.3" r="6.45"/>
<circle cx="1568.9" cy="1733" r="6.45"/>
<circle cx="1588.7" cy="1733" r="6.45"/>
<circle cx="1578.6" cy="1754.7" r="6.45"/>
<rect x="1694.05" y="1639.05" width="13.9" height="13.9"/>
<rect x="1674.65" y="1704.45" width="13.9" height="13.9"/>
<rect x="1694.05" y="1704.45" width="13.9" height="13.9"/>
<rect x="1713.95" y="1704.45" width="13.9" height="13.9"/>
<rect x="1694.05" y="1748.05" width="13.9" height="13.9"/>
<polygon points="1824.2,1552.25 1817.55,1565.55 1830.85,1565.55"/>
<polygon points="1824.2,1595.75 1817.55,1609.05 1830.85,1609.05"/>
<polygon points="1814.3,1639.55 1807.65,1652.85 1820.95,1652.85"/>
<polygon points="1833.9,1639.55 1827.25,1652.85 1840.55,1652.85"/>
<polygon points="1824.2,1704.95 1817.55,1718.25 1830.85,1718.25"/>
<polygon points="1940.15,1551.85 1953.45,1551.85 1946.8,1565.15"/>
<polygon points="1940.15,1616.65 1953.45,1616.65 1946.8,1629.95"/>
<polygon points="1940.15,1660.95 1953.45,1660.95 1946.8,1674.25"/>
<polygon points="1940.15,1683.15 1953.45,1683.15 1946.8,1696.45"/>
<polygon points="1940.15,1726.15 1953.45,1726.15 1946.8,1739.45"/>
</g>
<g stroke="#000" fill="none">
<path d="M1508.3 1470.5 H1517.1 V1797.8 H2009.5" stroke-width="3.1" stroke-linejoin="miter"/>
<line x1="1508.3" y1="1797.8" x2="1517.1" y2="1797.8" stroke-width="3.1" stroke-linecap="butt"/>
<line x1="1508.3" y1="1688.7" x2="1517.1" y2="1688.7" stroke-width="3.1" stroke-linecap="butt"/>
<line x1="1508.3" y1="1579.6" x2="1517.1" y2="1579.6" stroke-width="3.1" stroke-linecap="butt"/>
<line x1="1578.8" y1="1797.8" x2="1578.8" y2="1807" stroke-width="3.1" stroke-linecap="butt"/>
<line x1="1701.5" y1="1797.8" x2="1701.5" y2="1807" stroke-width="3.1" stroke-linecap="butt"/>
<line x1="1824.2" y1="1797.8" x2="1824.2" y2="1807" stroke-width="3.1" stroke-linecap="butt"/>
<line x1="1947" y1="1797.8" x2="1947" y2="1807" stroke-width="3.1" stroke-linecap="butt"/>
</g>
<g fill="#000" font-family='"Liberation Sans", Arial, Helvetica, sans-serif'>
<text id="H_t0" transform="translate(1504.57 1806.06) scale(0.9282 1)" font-size="26.34" font-weight="bold" text-anchor="end">0</text>
<text id="H_t5" transform="translate(1504.57 1696.96) scale(0.9282 1)" font-size="26.34" font-weight="bold" text-anchor="end">5</text>
<text id="H_t10" transform="translate(1504.57 1587.86) scale(0.9282 1)" font-size="26.34" font-weight="bold" text-anchor="end">10</text>
<text id="H_t15" transform="translate(1504.57 1478.76) scale(0.9282 1)" font-size="26.34" font-weight="bold" text-anchor="end">15</text>
<text id="H_x0" transform="translate(1583.09 1828.34) rotate(-45)" font-size="23.53" font-weight="bold" text-anchor="end">WT</text>
<text id="H_x1" transform="translate(1702.72 1832.21) rotate(-45)" font-size="23.3" font-weight="bold" text-anchor="end">iWT</text>
<text id="H_x2" transform="translate(1826.33 1831.72) rotate(-45)" font-size="25.16" font-weight="bold" text-anchor="end">Gal-8KO</text>
<text id="H_x3" transform="translate(1947.6 1831.35) rotate(-45)" font-size="24.62" font-weight="bold" text-anchor="end">iGal-8KO</text>
<text id="H_y0" transform="translate(1420.37 1633.34) rotate(-90) scale(0.9994 1)" font-size="32.48" font-weight="normal" text-anchor="middle"><tspan>T CD4</tspan><tspan font-size="19.49" dy="-11.69">+</tspan><tspan dy="11.69"> central</tspan></text>
<text id="H_y1" transform="translate(1460.48 1632.1) rotate(-90) scale(1.0986 1)" font-size="30.42" font-weight="normal" text-anchor="middle"><tspan>memory cells (x10</tspan><tspan font-size="18.25" dy="-10.95">6</tspan><tspan dy="10.95">)</tspan></text>
<text id="H_lab" transform="translate(1388.14 1383.35) scale(1.2319 1)" font-size="31.07" font-weight="bold" text-anchor="start" stroke="#000" stroke-width="0.8">(H)</text>
</g>
</svg>
</body></html>
